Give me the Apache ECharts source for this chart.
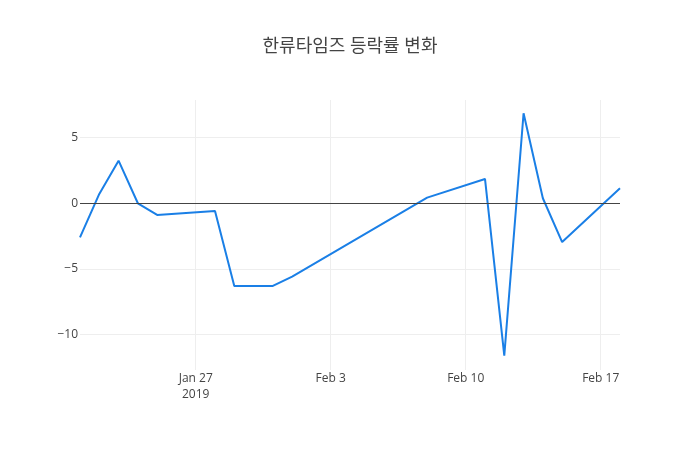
<!DOCTYPE html>
<html>
<head>
<meta charset="utf-8">
<script src="https://cdn.jsdelivr.net/npm/echarts@6/dist/echarts.min.js"></script>
<style>
  html, body { margin: 0; padding: 0; background: #fff; }
  #chart { width: 700px; height: 450px; }
</style>
</head>
<body>
<div id="chart"></div>
<script>
const dates = [
  "2019-01-21", "2019-01-22", "2019-01-23", "2019-01-24", "2019-01-25",
  "2019-01-28", "2019-01-29", "2019-01-31", "2019-02-01", "2019-02-08",
  "2019-02-11", "2019-02-12", "2019-02-13", "2019-02-14", "2019-02-15",
  "2019-02-18"
];
const changes = [
  -2.6, 0.71, 3.24, 0.0, -0.89,
  -0.59, -6.29, -6.29, -5.58, 0.43,
  1.85, -11.6, 6.85, 0.38, -2.95,
  1.14
];
const xTickDates = ["2019-01-27", "2019-02-03", "2019-02-10", "2019-02-17"];
const xTickLabels = ["Jan 27\n2019", "Feb 3", "Feb 10", "Feb 17"];
const yTicks = [-10, -5, 0, 5];

// x values are days counted from the first tick date
const DAY = 86400000;
const origin = Date.parse(xTickDates[0] + "T00:00:00Z");
const dayOf = (d) => Math.round((Date.parse(d + "T00:00:00Z") - origin) / DAY);
const xTicks = xTickDates.map(dayOf);
const font = "'Open Sans', 'Noto Sans CJK KR', sans-serif";

const chart = echarts.init(document.getElementById("chart"), null, { renderer: "canvas" });

chart.setOption({
  animation: false,
  title: {
    text: "한류타임즈 등락률 변화",
    left: "center",
    top: 33,
    textStyle: { fontFamily: font, fontSize: 18, fontWeight: "normal", color: "#444" },
  },
  grid: { left: 80, right: 80, top: 100, bottom: 80, containLabel: false },
  xAxis: {
    type: "value",
    min: dayOf(dates[0]),
    max: dayOf(dates[dates.length - 1]),
    axisLine: { show: false },
    axisTick: { show: false, customValues: xTicks },
    splitLine: { show: true, lineStyle: { color: "#eee", width: 1 } },
    axisLabel: {
      customValues: xTicks,
      margin: 1,
      color: "#444",
      fontFamily: font,
      fontSize: 12,
      lineHeight: 16,
      formatter: (v) => {
        const i = xTicks.indexOf(v);
        return i >= 0 ? xTickLabels[i] : "";
      },
    },
  },
  yAxis: {
    type: "value",
    min: -12.69,
    max: 7.86,
    axisLine: { show: false },
    axisTick: { show: false, customValues: yTicks },
    splitLine: { show: true, lineStyle: { color: "#eee", width: 1 } },
    axisLabel: {
      customValues: yTicks,
      margin: 2,
      color: "#444",
      fontFamily: font,
      fontSize: 12,
      formatter: (v) => String(v).replace("-", "\u2212"),
    },
  },
  series: [
    {
      type: "line",
      data: dates.map((d, i) => [dayOf(d), changes[i]]),
      showSymbol: false,
      lineStyle: { color: "#1a7fe6", width: 2 },
      itemStyle: { color: "#1a7fe6" },
      markLine: {
        silent: true,
        symbol: ["none", "none"],
        label: { show: false },
        lineStyle: { color: "#444", width: 1, type: "solid" },
        data: [{ yAxis: 0 }],
      },
      z: 3,
    },
  ],
});
</script>
</body>
</html>
